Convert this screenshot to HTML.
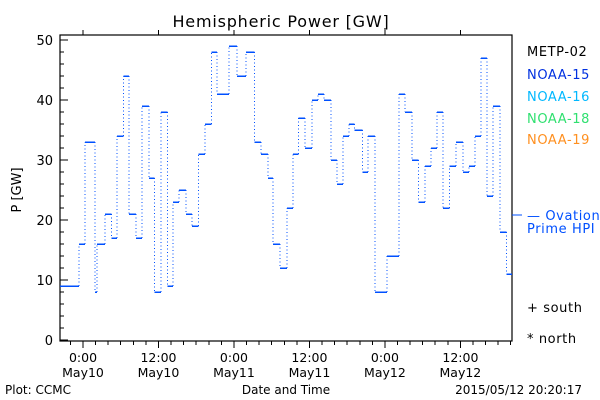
<!DOCTYPE html>
<html><head><meta charset="utf-8"><style>
body{margin:0;background:#fff}
svg{display:block;font-family:"DejaVu Sans","Liberation Sans",sans-serif}
</style></head><body>
<svg id="chart" width="600" height="400" viewBox="0 0 600 400">
<text x="281" y="27" font-size="16" letter-spacing="0.8" text-anchor="middle">Hemispheric Power [GW]</text>
<rect x="60" y="35" width="452" height="306" fill="none" stroke="#000" stroke-width="1.2"/>
<g id="axes" shape-rendering="crispEdges"></g>
<g id="series" shape-rendering="crispEdges"></g>
<text transform="translate(21,190) rotate(-90)" font-size="13" text-anchor="middle">P [GW]</text>
<text x="286" y="394" font-size="12" text-anchor="middle">Date and Time</text>
<text x="5" y="394" font-size="12">Plot: CCMC</text>
<text x="582" y="394" font-size="12" text-anchor="end">2015/05/12 20:20:17</text>
<g font-size="13" letter-spacing="0.6">
<text x="527" y="56" fill="#000">METP-02</text>
<text x="527" y="79" fill="#0030e0">NOAA-15</text>
<text x="527" y="101" fill="#00b8ff">NOAA-16</text>
<text x="527" y="123" fill="#30e070">NOAA-18</text>
<text x="527" y="144" fill="#ff9020">NOAA-19</text>
<line x1="512" y1="215" x2="522" y2="215" stroke="#0050ff"/>
<text x="527" y="220" fill="#0050ff">— Ovation</text>
<text x="527" y="233" fill="#0050ff">Prime HPI</text>
<text x="527" y="312" fill="#000">+ south</text>
<text x="527" y="343" fill="#000">* north</text>
</g>
</svg>
<script>
const startHours=[-3.66,-0.6,0.3,1.9,2.2,3.5,4.5,5.4,6.4,7.3,8.4,9.4,10.5,11.4,12.4,13.4,14.3,15.3,16.4,17.3,18.4,19.4,20.4,21.3,23.2,24.5,25.9,27.3,28.3,29.4,30.2,31.3,32.4,33.4,34.3,35.3,36.4,37.4,38.3,39.4,40.4,41.3,42.3,43.2,44.4,45.3,46.4,48.3,50.2,51.2,52.3,53.3,54.4,55.3,56.3,57.2,58.3,59.3,60.4,61.4,62.3,63.3,64.2,65.2,66.3,67.3];
const powerValues=[9,16,33,8,16,21,17,34,44,21,17,39,27,8,38,9,23,25,21,19,31,36,48,41,49,44,48,33,31,27,16,12,22,31,37,32,40,41,40,30,26,34,36,35,28,34,8,14,41,38,30,23,29,32,38,22,29,33,28,29,34,47,24,39,18,11];
const endHour=68.2;
const yTickValues=[0,10,20,30,40,50];
const xTickHours=[0,12,24,36,48,60];
const xTickLabels=[["0:00","May10"],["12:00","May10"],["0:00","May11"],["12:00","May11"],["0:00","May12"],["12:00","May12"]];
const NS="http://www.w3.org/2000/svg";
const x=h=>83+h*6.29;
const y=v=>340-v*6.0;
function mk(tag,attrs,parent){const e=document.createElementNS(NS,tag);for(const k in attrs)e.setAttribute(k,attrs[k]);parent.appendChild(e);return e;}
const ax=document.getElementById('axes');
for(let v=0;v<=50;v+=2){
  const major=v%10===0;
  const t=mk('line',{x1:60,x2:60+(major?8:4),y1:y(v),y2:y(v),stroke:'#000'},ax);
  
  
}
yTickValues.forEach(v=>{
  const t=mk('text',{x:53,y:y(v)+5,'font-size':13,'text-anchor':'end'},ax);t.textContent=v;
  
  
});
for(let h=-2;h<=68;h+=2){
  const major=h%12===0;
  const t=mk('line',{x1:x(h),x2:x(h),y1:341,y2:341+(major?7:4),stroke:'#000'},ax);
  
  
  if(major){const u=mk('line',{x1:x(h),x2:x(h),y1:35,y2:30,stroke:'#000'},ax);
    
    }
}
xTickHours.forEach((h,i)=>{
  const t=mk('text',{x:x(h),y:362,'font-size':12.5,'text-anchor':'middle'},ax);
  t.textContent=xTickLabels[i][0];
  
  
  const t2=mk('text',{x:x(h),y:377,'font-size':12.5,'text-anchor':'middle'},ax);
  t2.textContent=xTickLabels[i][1];
  
  
});
const sg=document.getElementById('series');
for(let i=0;i<powerValues.length;i++){
  const h0=startHours[i],h1=i+1<startHours.length?startHours[i+1]:endHour;
  const s=mk('line',{x1:x(h0),x2:x(h1),y1:y(powerValues[i]),y2:y(powerValues[i]),stroke:'#0050ff','stroke-width':1.5},sg);
  
  
  if(i+1<powerValues.length){
    const d=mk('line',{x1:x(h1),x2:x(h1),y1:y(powerValues[i]),y2:y(powerValues[i+1]),stroke:'#0050ff','stroke-width':1,'stroke-dasharray':'1,2.5'},sg);
    
    
  }
}
</script>
</body></html>
